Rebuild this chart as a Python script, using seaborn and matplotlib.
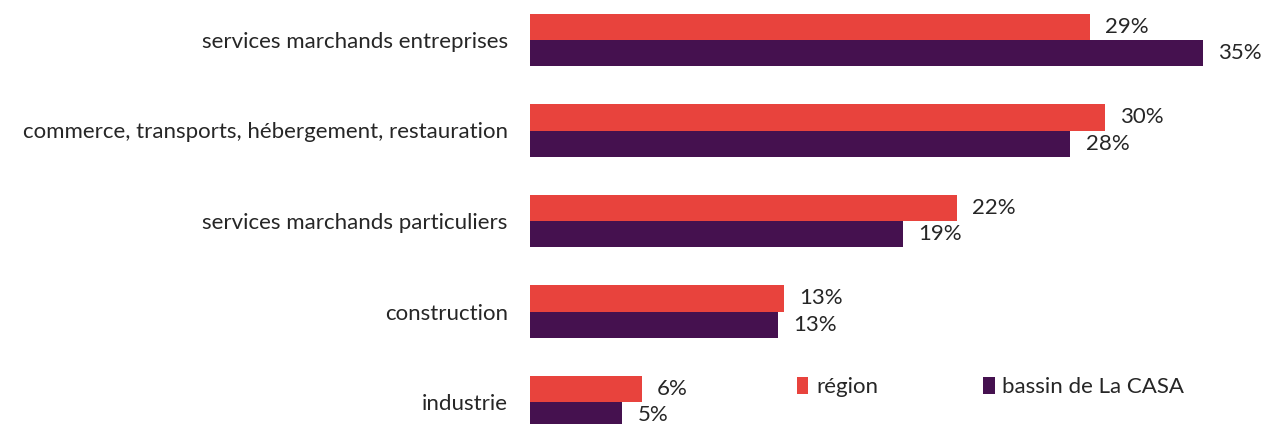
import matplotlib
matplotlib.use("Agg")
import matplotlib.pyplot as plt
import seaborn as sns
import pandas as pd

categories = [
    "services marchands entreprises",
    "commerce, transports, hébergement, restauration",
    "services marchands particuliers",
    "construction",
    "industrie",
]
region = [29.1, 29.9, 22.2, 13.2, 5.8]
casa = [35.0, 28.1, 19.4, 12.9, 4.8]
series_names = ["région", "bassin de La CASA"]
colors = ["#E8433D", "#45114F"]

df = pd.DataFrame({
    "cat": categories * 2,
    "val": region + casa,
    "serie": [series_names[0]] * len(categories) + [series_names[1]] * len(categories),
})

sns.set_theme(style="white")
plt.rcParams["font.family"] = ["Lato", "DejaVu Sans"]
text_color = "#262626"
fs = 16

fig = plt.figure(figsize=(12.63, 4.24), dpi=100)
ax = fig.add_axes([530 / 1263, 0, 1 - 530 / 1263, 1])
sns.barplot(data=df, y="cat", x="val", hue="serie", order=categories,
            hue_order=series_names, palette=colors, orient="h", width=0.58,
            ax=ax, legend=True, saturation=1, linewidth=0)

for cont in ax.containers:
    ax.bar_label(cont, labels=[f"{round(v)}%" for v in cont.datavalues],
                 padding=11, fontsize=fs, color=text_color)

ax.set_xlim(0, 733 / 19.23)
ax.set_ylim(424 / 90.5 - 40 / 90.5, -40 / 90.5)
ax.set_xlabel("")
ax.set_ylabel("")
ax.set_xticks([])
ax.tick_params(axis="y", length=0, pad=16, labelsize=fs, labelcolor=text_color)
for s in ax.spines.values():
    s.set_visible(False)

handles, labels = ax.get_legend_handles_labels()
ax.legend(handles, labels, loc="center left", bbox_to_anchor=(797 / 1263, 1 - 387 / 424),
          bbox_transform=fig.transFigure, ncol=2, frameon=False,
          handlelength=0.5, handleheight=0.8, handletextpad=0.35,
          columnspacing=4.75, fontsize=fs, labelcolor=text_color, borderpad=0,
          borderaxespad=0)

fig.savefig("out.png", dpi=100)
